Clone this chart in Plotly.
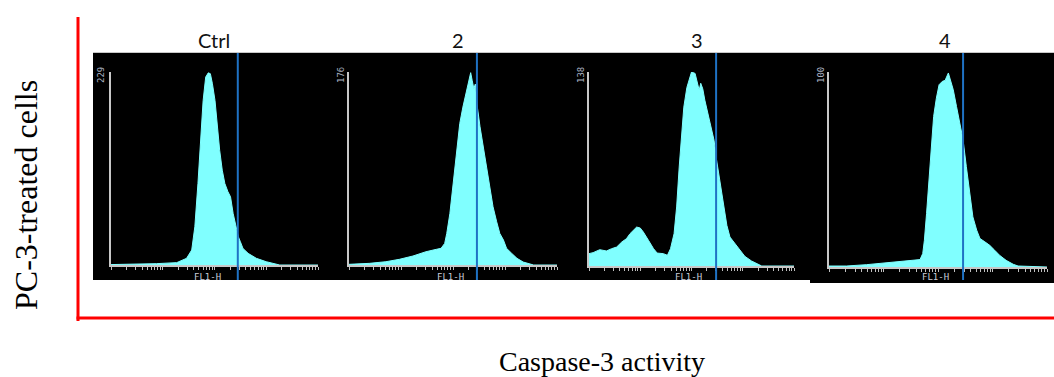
import plotly.graph_objects as go

W, H = 1054, 377

# ---------------- data (x = log10 FL1-H channel, y = cell counts) ----------------
panel_titles = ["Ctrl", "2", "3", "4"]
y_max_labels = [229, 176, 138, 100]
gate_log = [2.45, 2.46, 2.48, 2.46]

ctrl_log = [0.00, 0.56, 0.88, 1.27, 1.46, 1.56, 1.62, 1.68, 1.73, 1.78, 1.83, 1.88, 1.92, 1.96,
            2.01, 2.05, 2.10, 2.15, 2.20, 2.26, 2.31, 2.36, 2.41, 2.46, 2.50, 2.55, 2.65, 2.81,
            3.00, 3.20, 3.26, 4.00]
ctrl_cnt = [0.5, 0.8, 1.6, 2.8, 7.9, 17.8, 45.4, 96.7, 148, 195, 223, 228, 227, 215,
            195, 164, 136, 112.5, 96.7, 86.9, 80.9, 61.2, 45.4, 33.6, 27.6, 19.7, 13.8, 7.9,
            3.9, 1.2, 0, 0]

t2_log = [0.00, 0.39, 0.71, 0.97, 1.23, 1.48, 1.68, 1.77, 1.84, 1.88, 1.94, 1.99, 2.03, 2.08,
          2.13, 2.19, 2.26, 2.31, 2.34, 2.37, 2.40, 2.43, 2.46, 2.52, 2.58, 2.65, 2.71, 2.77,
          2.84, 2.90, 2.97, 3.03, 3.13, 3.23, 3.35, 3.48, 3.55, 4.00]
t2_cnt = [0.6, 1.5, 3.0, 5.2, 8.2, 12.1, 14.3, 15.2, 19.7, 28.8, 47, 68.3, 86.5, 107.7,
          129, 144, 159, 171, 175.4, 168, 161, 165, 147, 126, 107.7, 89.5, 71.3, 53.1,
          39.4, 28.8, 22.8, 15.2, 10.6, 6.1, 2.7, 0.9, 0, 0]

t3_log = [0.00, 0.08, 0.21, 0.34, 0.44, 0.54, 0.64, 0.73, 0.80, 0.87, 0.93, 1.00, 1.06, 1.16,
          1.26, 1.33, 1.45, 1.53, 1.59, 1.66, 1.71, 1.76, 1.81, 1.85, 1.91, 1.96, 2.00, 2.07,
          2.11, 2.15, 2.18, 2.22, 2.26, 2.33, 2.39, 2.44, 2.49, 2.56, 2.62, 2.69, 2.75, 2.85,
          2.95, 3.04, 3.17, 3.30, 3.37, 4.00]
t3_cnt = [8.8, 9.5, 11.6, 10.7, 12.3, 13.5, 17.1, 19.4, 23, 25.8, 27.7, 27, 24.2, 18.3,
          12.3, 9.2, 8.8, 7.6, 12.3, 23, 42, 70.4, 94, 113, 127, 134, 138, 137,
          131, 125, 130, 126, 118, 106, 96.5, 89.4, 75.2, 58.6, 42, 28.9, 20.6, 15.9,
          11.1, 6.9, 3.6, 1.2, 0, 0]

t4_log = [0.00, 0.32, 0.69, 1.06, 1.42, 1.67, 1.72, 1.75, 1.79, 1.84, 1.88, 1.92, 1.97, 2.02,
          2.08, 2.13, 2.19, 2.23, 2.28, 2.34, 2.40, 2.46, 2.52, 2.58, 2.64, 2.71, 2.77, 2.86,
          2.95, 3.04, 3.13, 3.25, 3.38, 3.47, 4.00]
t4_cnt = [0.5, 0.5, 1.2, 2.1, 2.9, 3.8, 6.9, 13.7, 27.4, 48, 65.2, 77.2, 86.6, 93.5,
          95.2, 95.7, 99.5, 96, 90.9, 82.3, 73.7, 65.2, 51.5, 37.7, 25.7, 18.9, 14.6, 12.9,
          11.1, 8.6, 6.0, 3.4, 1.4, 0.5, 0]

series = [(ctrl_log, ctrl_cnt), (t2_log, t2_cnt), (t3_log, t3_cnt), (t4_log, t4_cnt)]

# ---------------- layout geometry (pixels) ----------------
px_x = [(111, 318), (349, 557), (589, 794), (829, 1047)]
px_y = [(72, 265), (72, 265), (72, 266), (72, 267)]
title_x = [214, 458, 697, 945]
fl1_x = [207, 450, 688, 935]
ylab_x = [101, 341, 581, 821]

def fx(p):
    return p / W

def fy(p):
    return 1 - p / H

fig = go.Figure()
layout = dict(
    width=W, height=H, margin=dict(l=0, r=0, t=0, b=0),
    paper_bgcolor="white", plot_bgcolor="rgba(0,0,0,0)", showlegend=False,
)
shapes = []
annotations = []

# black flow-cytometry strip
shapes.append(dict(type="rect", xref="paper", yref="paper", x0=fx(93), x1=fx(1054),
                   y0=fy(280), y1=fy(53), fillcolor="black", line=dict(width=0), layer="below"))
shapes.append(dict(type="rect", xref="paper", yref="paper", x0=fx(810), x1=fx(1054),
                   y0=fy(283), y1=fy(279), fillcolor="black", line=dict(width=0), layer="below"))
shapes.append(dict(type="line", xref="paper", yref="paper", x0=fx(93), x1=fx(1054),
                   y0=fy(52.5), y1=fy(52.5), line=dict(color="#c8c8c8", width=1), layer="below"))

for i, (xs, ys) in enumerate(series):
    n = "" if i == 0 else str(i + 1)
    xa, ya = "x" + n, "y" + n
    fig.add_trace(go.Scatter(
        x=[10 ** v for v in xs], y=ys, xaxis=xa, yaxis=ya, mode="lines",
        fill="tozeroy", fillcolor="#80ffff", line=dict(color="#80ffff", width=1),
        hoverinfo="skip"))
    layout["xaxis" + n] = dict(
        domain=[fx(px_x[i][0]), fx(px_x[i][1])], anchor=ya, type="log", range=[0, 4],
        dtick="D1", showticklabels=False, ticks="outside", ticklen=3, tickcolor="#c0c0c0",
        tickwidth=1, showline=True, linecolor="#c8c8c8", linewidth=1.5, showgrid=False,
        zeroline=False, fixedrange=True)
    layout["yaxis" + n] = dict(
        domain=[fy(px_y[i][1]), fy(px_y[i][0])], anchor=xa, range=[0, y_max_labels[i]],
        showticklabels=False, ticks="", showline=True, linecolor="#c8c8c8", linewidth=1.5,
        showgrid=False, zeroline=False, fixedrange=True)
    # gate line
    shapes.append(dict(type="line", xref=xa, yref="paper", x0=10 ** gate_log[i],
                       x1=10 ** gate_log[i], y0=fy(280), y1=fy(53),
                       line=dict(color="#1f72c4", width=2)))
    annotations.append(dict(text=panel_titles[i], xref="paper", yref="paper",
                            x=fx(title_x[i]), y=fy(40), xanchor="center", yanchor="middle",
                            showarrow=False, font=dict(family="Lato", size=20, color="#111")))
    annotations.append(dict(text=str(y_max_labels[i]), xref="paper", yref="paper",
                            x=fx(ylab_x[i]), y=fy(75), xanchor="center", yanchor="middle",
                            textangle=-90, showarrow=False,
                            font=dict(family="DejaVu Sans Mono", size=9, color="#a8b0c0")))
    annotations.append(dict(text="FL1-H", xref="paper", yref="paper",
                            x=fx(fl1_x[i]), y=fy(277), xanchor="center", yanchor="middle",
                            showarrow=False,
                            font=dict(family="DejaVu Sans Mono", size=9, color="#c8ccd8")))

# red frame lines
shapes.append(dict(type="line", xref="paper", yref="paper", x0=fx(78), x1=fx(78),
                   y0=fy(17), y1=fy(321), line=dict(color="#ff0000", width=3)))
shapes.append(dict(type="line", xref="paper", yref="paper", x0=fx(76.5), x1=fx(1054),
                   y0=fy(318), y1=fy(318), line=dict(color="#ff0000", width=3)))

annotations.append(dict(text="PC-3-treated cells", xref="paper", yref="paper",
                        x=fx(26), y=fy(195), xanchor="center", yanchor="middle",
                        textangle=-90, showarrow=False,
                        font=dict(family="Liberation Serif", size=32, color="black")))
annotations.append(dict(text="Caspase-3 activity", xref="paper", yref="paper",
                        x=fx(602), y=fy(361), xanchor="center", yanchor="middle",
                        showarrow=False,
                        font=dict(family="Liberation Serif", size=28, color="black")))

layout["shapes"] = shapes
layout["annotations"] = annotations
fig.update_layout(**layout)
fig.write_html("out.html", config={"displayModeBar": False},
               post_script="document.body.style.margin='0';document.body.style.padding='0';")
